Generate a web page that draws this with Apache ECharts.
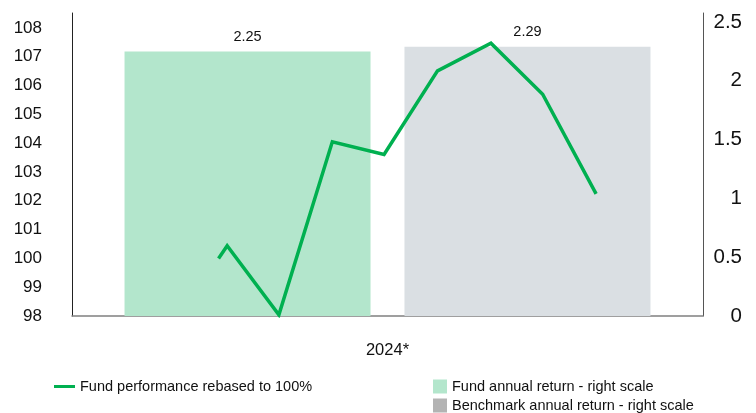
<!DOCTYPE html>
<html><head><meta charset="utf-8">
<script src="https://cdn.jsdelivr.net/npm/echarts@6/dist/echarts.min.js"></script>
<style>html,body{margin:0;padding:0;background:#fff}#c{width:756px;height:413px}</style>
</head><body><div id="c"></div>
<script>
const categories = ['2024*'];
const fundReturn = [2.25];
const benchmarkReturn = [2.29];
const lineDates = ['2024-03-26','2024-03-31','2024-04-30','2024-05-31','2024-06-30','2024-07-31','2024-08-31','2024-09-30','2024-10-31'];
const fundLevels = [100.0, 100.44, 98.04, 104.05, 103.61, 106.51, 107.47, 105.70, 102.24];

const FONT = '"Liberation Sans", Arial, sans-serif';
const legendText = { fontFamily: FONT, fontSize: 14.5, color: '#111' };
const chart = echarts.init(document.getElementById('c'));
chart.setOption({
  animation: false,
  textStyle: { fontFamily: FONT, color: '#111' },
  grid: { left: 72, right: 53, top: 13, bottom: 97 },
  legend: [
    { left: 49, top: 374, itemWidth: 21, itemHeight: 3, icon: 'rect', textStyle: legendText,
      data: ['Fund performance rebased to 100%'] },
    { left: 428, top: 374, itemWidth: 14, itemHeight: 14, icon: 'rect', textStyle: legendText,
      data: [{ name: 'Fund annual return - right scale', itemStyle: { color: '#b3e6cc' } }] },
    { left: 428, top: 393, itemWidth: 14, itemHeight: 14, icon: 'rect', textStyle: legendText,
      data: [{ name: 'Benchmark annual return - right scale', itemStyle: { color: '#b3b3b3' } }] }
  ],
  xAxis: [
    { type: 'category', data: categories,
      axisLine: { lineStyle: { color: '#808080', width: 1.5 } },
      axisTick: { show: false },
      axisLabel: { fontSize: 16.5, color: '#111', margin: 26, fontFamily: FONT } },
    { type: 'time', min: '2024-01-01', max: '2025-01-01', show: false }
  ],
  yAxis: [
    { type: 'value', position: 'left', min: 98, max: 108.52, interval: 1,
      axisLine: { show: true, lineStyle: { color: '#222' } },
      splitLine: { show: false }, axisTick: { show: false },
      axisLabel: { fontSize: 17, color: '#111', margin: 30, showMaxLabel: false, fontFamily: FONT } },
    { type: 'value', position: 'right', min: 0, max: 2.577, interval: 0.5,
      axisLine: { show: true, lineStyle: { color: '#555' } },
      splitLine: { show: false }, axisTick: { show: false },
      axisLabel: { fontSize: 20.5, color: '#111', margin: 39, align: 'right', showMaxLabel: false, fontFamily: FONT } }
  ],
  series: [
    { name: 'Fund annual return - right scale', type: 'bar', xAxisIndex: 0, yAxisIndex: 1,
      data: fundReturn, barWidth: 246, barGap: '13.8%',
      itemStyle: { color: '#b3e6cc' },
      label: { show: true, position: 'top', distance: 7, fontSize: 14.5, color: '#111', fontFamily: FONT, formatter: p => p.value.toFixed(2) } },
    { name: 'Benchmark annual return - right scale', type: 'bar', xAxisIndex: 0, yAxisIndex: 1,
      data: benchmarkReturn, barWidth: 246,
      itemStyle: { color: '#dadfe3' },
      label: { show: true, position: 'top', distance: 7, fontSize: 14.5, color: '#111', fontFamily: FONT, formatter: p => p.value.toFixed(2) } },
    { name: 'Fund performance rebased to 100%', type: 'line', xAxisIndex: 1, yAxisIndex: 0,
      data: lineDates.map((d, i) => [d, fundLevels[i]]),
      showSymbol: false, symbol: 'none',
      lineStyle: { color: '#00b050', width: 3.5, join: 'miter' },
      itemStyle: { color: '#00b050' } }
  ]
});
</script></body></html>
